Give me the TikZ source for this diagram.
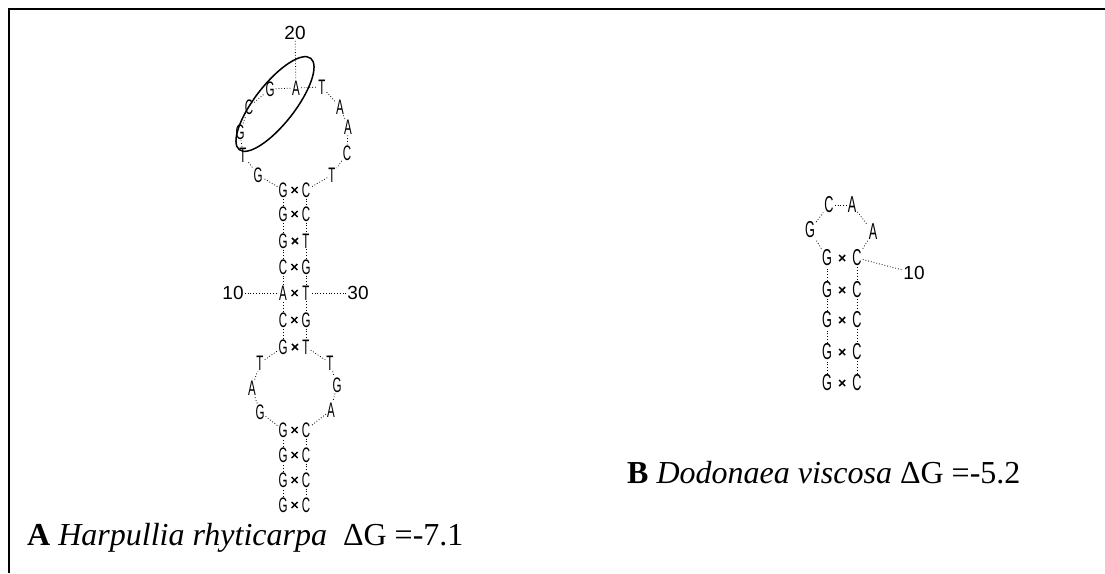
\documentclass[tikz,border=0pt]{standalone}
\usepackage{fontspec}
\setmainfont{Liberation Serif}
\newfontfamily\ntfont{Liberation Sans}
\usepackage{graphicx}
\usetikzlibrary{shapes.misc}
\tikzstyle{base}=[inner sep=1pt
,font=\ntfont\fontsize{21}{21}\selectfont
]
\tikzstyle{big base}=[base, font=\ntfont\fontsize{23}{23}\selectfont]
\tikzstyle{num}=[inner sep=1pt, font=\ntfont\fontsize{19}{19}\selectfont]
\tikzstyle{backbone}=[draw,dotted,line width=0.8pt]
\tikzstyle{pair}=[draw, cross out, minimum size=4.5pt, inner sep=0pt, line width=1.5pt]
\tikzstyle{caption}=[anchor=base west, inner sep=0pt, font=\fontsize{32}{38}\selectfont]
\newcommand{\slim}[1]{\scalebox{0.55}[1]{#1}}

\begin{document}
\begin{tikzpicture}[x=1pt,y=-1pt]
    \useasboundingbox (0,0) rectangle (1105,573);
    % frame
    \draw[line width=2pt] (9,573) -- (9,9) -- (1105,9);

    % A: Harpullia hairpin, first the bases
    \foreach \pos/\name/\letter in {{(283,505)/a1/G}, {(283,480)/a2/G}, {(283,455)/a3/G}, {(283,430)/a4/G},
        {(260,412)/a5/G}, {(252,388)/a6/A}, {(260,363)/a7/T},
        {(283,347)/a8/G}, {(283,320)/a9/C}, {(283,293)/a10/A}, {(283,267)/a11/C},
        {(283,241)/a12/G}, {(283,214)/a13/G}, {(283,190)/a14/G},
        {(258,175)/a15/G}, {(243,155)/a16/T}, {(240,132)/a17/G}, {(249,107)/a18/C},
        {(270,89)/a19/G}, {(296,88)/a20/A}, {(322,87)/a21/T}, {(340,107)/a22/A},
        {(348,127)/a23/A}, {(347,153)/a24/C}, {(332,175)/a25/T},
        {(306,190)/a26/C}, {(306,214)/a27/C}, {(306,241)/a28/T}, {(306,267)/a29/G},
        {(306,293)/a30/T}, {(306,320)/a31/G}, {(306,347)/a32/T},
        {(330,363)/a33/T}, {(337,385)/a34/G}, {(331,410)/a35/A},
        {(306,430)/a36/C}, {(306,455)/a37/C}, {(306,480)/a38/C}, {(306,505)/a39/C}}
        \node[base] (\name) at \pos {\slim{\letter}};

    % backbone
    \foreach \i [remember=\i as \prev (initially 1)] in {2,...,39}
        \path[backbone] (a\prev) -- (a\i);

    % base pairs
    \foreach \l/\r in {a14/a26, a13/a27, a12/a28, a11/a29, a10/a30, a9/a31, a8/a32,
        a4/a36, a3/a37, a2/a38, a1/a39}
        \path (\l) -- node[pair] {} (\r);

    % numbering
    \node[num] (n20) at (295,33) {20};
    \node[num] (n10) at (233,293) {10};
    \node[num] (n30) at (358,293) {30};
    \path[backbone] (n20) -- (a20);
    \path[backbone] (n10) -- (a10);
    \path[backbone] (n30) -- (a30);

    % the marked bases
    \draw[line width=1.5pt, rotate around={52:(275,104)}] (275,104) ellipse (58 and 20);

    % B: Dodonaea hairpin
    \foreach \pos/\name/\letter in {{(827,383)/b1/G}, {(827,352)/b2/G}, {(827,320)/b3/G},
        {(827,290)/b4/G}, {(827,258)/b5/G},
        {(810,230)/b6/G}, {(829,205)/b7/C}, {(852,205)/b8/A}, {(873,232)/b9/A},
        {(857,258)/b10/C}, {(857,290)/b11/C}, {(857,320)/b12/C}, {(857,352)/b13/C},
        {(857,383)/b14/C}}
        \node[big base] (\name) at \pos {\slim{\letter}};

    \foreach \i [remember=\i as \prev (initially 1)] in {2,...,14}
        \path[backbone] (b\prev) -- (b\i);

    \foreach \l/\r in {b5/b10, b4/b11, b3/b12, b2/b13, b1/b14}
        \path (\l) -- node[pair] {} (\r);

    \node[num] (m10) at (914,273) {10};
    \path[backbone] (b10) -- (m10);

    % captions
    \node[caption] (capA) at (27,545) {\textbf{A} \textit{Harpullia rhyticarpa}\ \ ΔG =-7.1};
    \node[caption] (capB) at (627,483) {\textbf{B} \textit{Dodonaea viscosa} ΔG =-5.2};
\end{tikzpicture}
\end{document}
